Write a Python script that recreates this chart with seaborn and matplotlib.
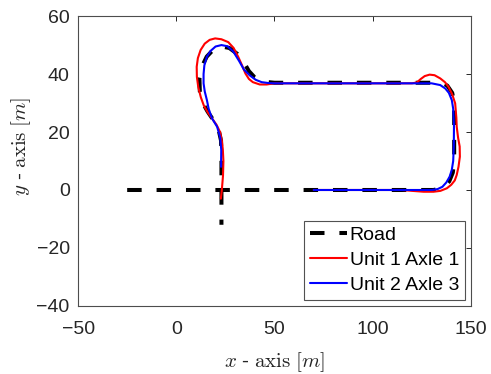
import matplotlib
matplotlib.use("Agg")
import matplotlib.pyplot as plt
import seaborn as sns
import pandas as pd

# Road centreline (m): approach along y = 0, loop round the block, exit down x = 23
road_x = [-25, 131, 136, 139, 140.8, 141.5, 141.5, 140.5, 138, 135, 50, 44, 40, 37, 34, 31,
          27, 23, 19, 15.5, 13, 11.8, 12, 13.5, 16, 19, 21.5, 22.8, 23, 23]
road_y = [0, 0, 0.8, 3, 6, 10, 30, 33.5, 36, 37, 37, 37.4, 38.8, 41, 44.5, 47,
          49, 49.5, 48.5, 46, 42.5, 38.5, 34, 30, 27, 24, 21, 17, 10, -12]

# Unit 1, axle 1 trajectory (m)
u1_x = [22.7, 23.2, 23.8, 24.0, 23.7, 23.2, 22.3, 20.5, 18.2, 16.0, 14.0, 12.5, 11.2, 10.5,
        10.4, 11.0, 12.4, 14.5, 17.0, 19.8, 23.0, 26.5, 29.2, 31.5, 33.5, 35.2, 37.0, 39.0,
        42.5, 46.0, 50.0, 120.0, 122.5, 124.5, 126.5, 129.0, 131.5, 134.4, 136.8, 138.6,
        140.5, 142.0, 142.6, 142.8, 143.5, 144.3, 144.4, 143.7, 142.8, 141.8, 140.0, 137.8,
        134.5, 131.0, 126.0, 120.0, 115.0, 70.0]
u1_y = [-3.0, 0.0, 5.0, 10.0, 14.0, 17.0, 20.0, 22.5, 24.7, 26.8, 29.2, 32.0, 35.5, 39.0,
        42.5, 45.5, 48.3, 50.5, 51.8, 52.3, 52.0, 51.0, 49.0, 46.0, 43.0, 40.2, 38.3, 37.2,
        36.4, 36.4, 36.8, 36.8, 37.1, 38.3, 39.3, 39.8, 39.6, 38.5, 37.2, 35.6,
        33.0, 29.9, 25.0, 21.8, 18.0, 15.0, 11.5, 8.0, 5.2, 3.3, 1.8, 0.6,
        -0.3, -0.6, -0.6, -0.3, 0.0, 0.0]

# Unit 2, axle 3 trajectory (m)
u2_x = [22.8, 22.9, 22.4, 20.8, 18.2, 16.5, 15.6, 14.5, 13.9, 13.9, 14.3, 15.6, 17.5, 20.0,
        23.0, 26.0, 29.0, 32.0, 34.5, 37.5, 40.5, 43.5, 47.0, 50.0, 130.0, 134.4, 137.0,
        138.8, 140.3, 141.0, 141.4, 141.3, 141.0, 140.3, 139.2, 137.5, 135.5, 133.0, 130.0,
        70.0]
u2_y = [8.0, 13.8, 18.0, 21.8, 24.7, 28.0, 31.0, 34.0, 36.8, 40.0, 43.0, 46.0, 48.0, 49.5,
        50.0, 49.6, 47.8, 44.5, 41.5, 39.5, 38.0, 37.2, 36.9, 36.8, 36.8, 36.2, 35.0,
        33.5, 31.0, 28.0, 22.0, 15.0, 10.0, 7.0, 4.6, 2.6, 1.1, 0.3, 0.0,
        0.0]

x_ticks = [-50, 0, 50, 100, 150]
y_ticks = [-40, -20, 0, 20, 40, 60]

sns.set_style("white")
plt.rcParams["font.family"] = ["Liberation Sans", "DejaVu Sans"]
plt.rcParams["mathtext.fontset"] = "cm"

fig = plt.figure(figsize=(4.91, 3.74), dpi=100)
ax = fig.add_axes([0.159, 0.182, 0.800, 0.775])

road = pd.DataFrame({"x": road_x, "y": road_y})
u1 = pd.DataFrame({"x": u1_x, "y": u1_y})
u2 = pd.DataFrame({"x": u2_x, "y": u2_y})

sns.lineplot(data=road, x="x", y="y", sort=False, estimator=None, ax=ax,
             color="black", linewidth=2.9, label="Road",
             linestyle=(0, (3.6, 3.7)))
sns.lineplot(data=u1, x="x", y="y", sort=False, estimator=None, ax=ax,
             color="#ff0000", linewidth=1.5, label="Unit 1 Axle 1")
sns.lineplot(data=u2, x="x", y="y", sort=False, estimator=None, ax=ax,
             color="#0000ff", linewidth=1.5, label="Unit 2 Axle 3")

ax.set_xlim(-50, 150)
ax.set_ylim(-40, 60)
ax.set_xticks(x_ticks)
ax.set_yticks(y_ticks)
ax.tick_params(axis="both", direction="in", length=3.5, width=0.7, colors="#262626",
               labelsize=14, top=True, right=True)
ax.tick_params(axis="x", pad=11)
ax.tick_params(axis="y", pad=6)
for s in ax.spines.values():
    s.set_visible(True)
    s.set_color("#4d4d4d")
    s.set_linewidth(0.8)

ax.set_xlabel(r"$x$ - $\mathrm{axis}$ $[m]$", fontsize=15, color="#262626", labelpad=9)
ax.set_ylabel(r"$y$ - $\mathrm{axis}$ $[m]$", fontsize=15, color="#262626")
ax.yaxis.set_label_coords(-0.115, 0.55)

leg = ax.legend(loc="lower right", bbox_to_anchor=(0.985, 0.02), borderaxespad=0,
                fontsize=14, frameon=True, fancybox=False, handlelength=1.9,
                handletextpad=0.15, borderpad=0.3, labelspacing=0.38)
leg.get_frame().set_edgecolor("#262626")
leg.get_frame().set_linewidth(0.8)
for t in leg.get_texts():
    t.set_color("black")

fig.savefig("out.png", dpi=100)
